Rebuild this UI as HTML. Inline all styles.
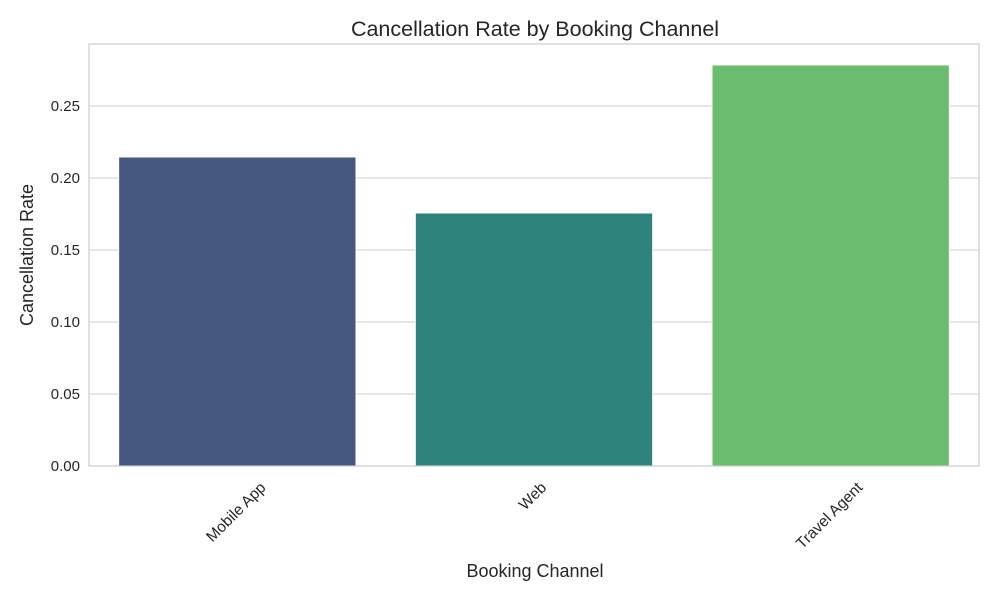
<!DOCTYPE html>
<html><head><meta charset="utf-8"><style>
body{margin:0;background:#fff;}
svg text{font-family:"Liberation Sans",sans-serif;fill:#262626;}
</style></head><body>
<svg width="1000" height="600" viewBox="0 0 1000 600">
<g id="grid"></g><g id="bars"></g><g id="axes"></g>
<text x="535" y="36" text-anchor="middle" font-size="21.5">Cancellation Rate by Booking Channel</text>
<text x="535" y="577" text-anchor="middle" font-size="18">Booking Channel</text>
<text transform="translate(33,255) rotate(-90)" text-anchor="middle" font-size="18">Cancellation Rate</text>
</svg>
<script>
const categories=["Mobile App","Web","Travel Agent"];
const values=[0.2146,0.1757,0.2785];
const yTicks=[0,0.05,0.10,0.15,0.20,0.25];
const tickLabels=["0.00","0.05","0.10","0.15","0.20","0.25"];
const colors=["#46587f","#2e847d","#6abd6d"];
const L=89,R=979,T=44,B=466,ymax=(B-T)/1440;
const ns="http://www.w3.org/2000/svg";
function y(v){return B-(v/ymax)*(B-T);}
const band=(R-L)/categories.length;
function xc(i){return L+band*(i+0.5);}
function mk(tag,attrs,parent){const e=document.createElementNS(ns,tag);for(const k in attrs)e.setAttribute(k,attrs[k]);document.getElementById(parent).appendChild(e);return e;}
yTicks.forEach((t,i)=>{
 const g=mk('line',{x1:L,x2:R,y1:y(t),y2:y(t),stroke:'#cccccc','stroke-width':1},'grid');
 
 
 const tx=mk('text',{x:L-9,y:y(t)+5,'text-anchor':'end','font-size':15},'axes');
 tx.textContent=tickLabels[i];
 
 
});
categories.forEach((c,i)=>{
 const w=band*0.8;
 const r=mk('rect',{x:xc(i)-w/2,y:y(values[i]),width:w,height:B-y(values[i]),fill:colors[i],stroke:'#ffffff','stroke-width':1},'bars');
 
 
 const tx=mk('text',{'text-anchor':'middle','font-size':15.5,'dominant-baseline':'central'},'axes');
 tx.textContent=c;
 const len=tx.getComputedTextLength();
 const half=(len+15)*0.7071/2;
 tx.setAttribute('transform',`translate(${xc(i)-1},${B+14+half}) rotate(-45)`);
 
 
});
const f=mk('rect',{x:L,y:T,width:R-L,height:B-T,fill:'none',stroke:'#cccccc','stroke-width':1.2},'axes');


</script>
</body></html>
